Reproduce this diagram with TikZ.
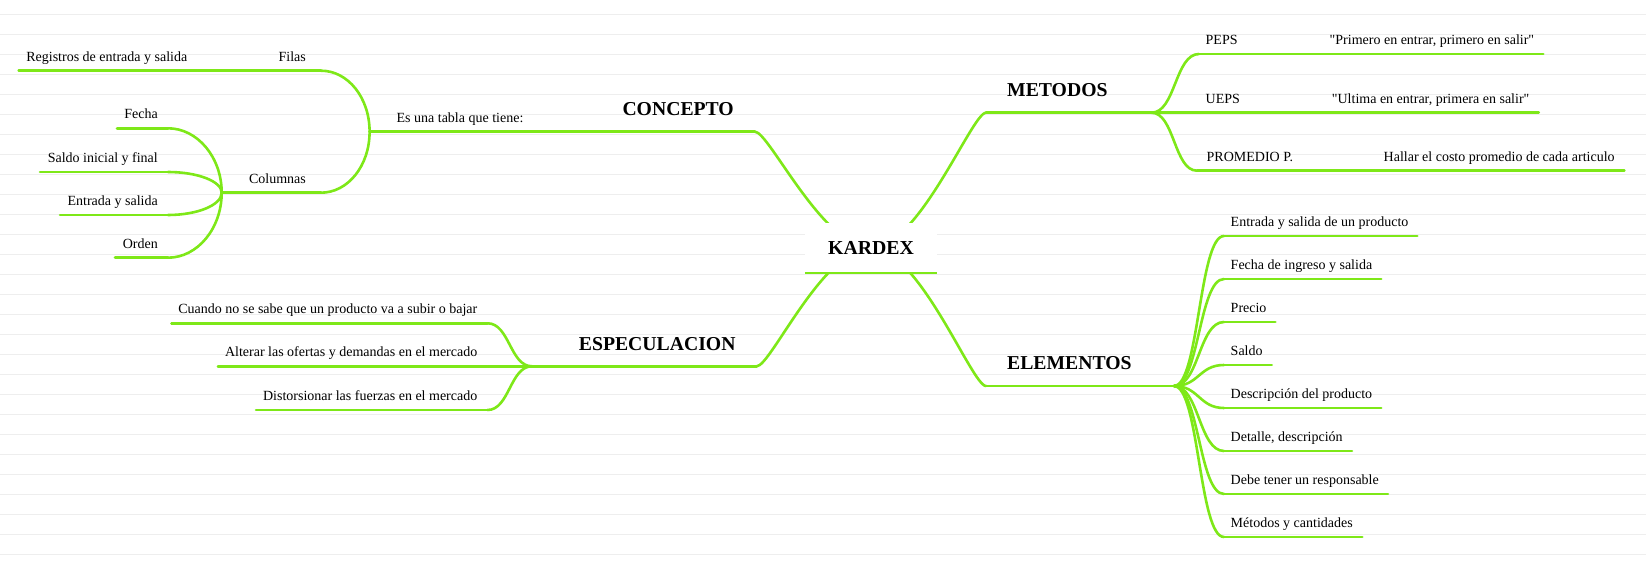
\documentclass[tikz,border=0pt]{standalone}
\usepackage{fontspec}
\setmainfont{Liberation Serif}
\usepackage{tikz}
\usetikzlibrary{positioning}
\definecolor{ramaverde}{RGB}{126,232,24}
\definecolor{rayado}{RGB}{238,238,238}
\font\comfuente="Liberation Serif" at 14pt
\newcommand{\comilla}{{\comfuente\symbol{34}}}

\begin{document}
\begin{tikzpicture}[
    x=1pt, y=-1pt,
    rama/.style={draw=ramaverde, line width=2.6pt, line cap=round},
    raya/.style={draw=rayado, line width=1pt},
    hoja/.style={font=\fontsize{14}{16}\selectfont, inner sep=0pt, text depth=3pt},
    tema/.style={font=\fontsize{19.7}{22}\selectfont\bfseries, inner sep=0pt, text depth=0pt},
    raiz/.style={font=\fontsize{19.8}{22}\selectfont\bfseries, fill=white, inner sep=0pt,
                 minimum width=132pt, minimum height=49.5pt}
]
    \useasboundingbox (0,0) rectangle (1646,567);

    % Fondo rayado
    \foreach \k in {0,...,27}
        \draw[raya] (0,{14.3+20*\k}) -- (1646,{14.3+20*\k});

    % Puntos
    \coordinate (rootc) at (871,248);

    \coordinate (conL) at (560,131.7);   \coordinate (conR) at (755,131.7);
    \coordinate (tablaL) at (369.6,131.7); \coordinate (tablaR) at (533.6,131.7);
    \coordinate (filasL) at (270,70.7);  \coordinate (filasR) at (321,70.7);
    \coordinate (regL) at (18.6,70.7);   \coordinate (regR) at (197.5,70.7);
    \coordinate (colL) at (221.7,192.7); \coordinate (colR) at (321,192.7);
    \coordinate (fechaL) at (117,128.3); \coordinate (fechaR) at (168,128.3);
    \coordinate (saldoL) at (40,172);    \coordinate (saldoR) at (168,172);
    \coordinate (entL) at (60,215);      \coordinate (entR) at (168,215);
    \coordinate (ordenL) at (115,257.7); \coordinate (ordenR) at (168,257.7);

    \coordinate (espL) at (532,366.3);   \coordinate (espR) at (756.7,366.3);
    \coordinate (cuaL) at (171.4,323.3); \coordinate (cuaR) at (487.5,323.3);
    \coordinate (altL) at (217.9,366.3); \coordinate (altR) at (487.5,366.3);
    \coordinate (disL) at (256,410);     \coordinate (disR) at (487.5,410);

    \coordinate (metL) at (986,112.7);   \coordinate (metR) at (1151.5,112.7);
    \coordinate (pepsL) at (1199,54);    \coordinate (pepsR) at (1260,54);
    \coordinate (priL) at (1321.5,54);   \coordinate (priR) at (1543.3,54);
    \coordinate (uepsL) at (1199,112.7); \coordinate (uepsR) at (1260,112.7);
    \coordinate (ultL) at (1323.7,112.7); \coordinate (ultR) at (1538.8,112.7);
    \coordinate (promL) at (1197,170.7); \coordinate (promR) at (1310,170.7);
    \coordinate (halL) at (1375.5,170.7); \coordinate (halR) at (1624.4,170.7);

    \coordinate (eleL) at (986,386);     \coordinate (eleR) at (1174,386);
    \coordinate (e1L) at (1224,236);     \coordinate (e1R) at (1417.3,236);
    \coordinate (e2L) at (1224,279);     \coordinate (e2R) at (1381.2,279);
    \coordinate (e3L) at (1224,322);     \coordinate (e3R) at (1275.4,322);
    \coordinate (e4L) at (1224,365);     \coordinate (e4R) at (1271.8,365);
    \coordinate (e5L) at (1224,408);     \coordinate (e5R) at (1381.2,408);
    \coordinate (e6L) at (1224,451);     \coordinate (e6R) at (1352,451);
    \coordinate (e7L) at (1224,494);     \coordinate (e7R) at (1388,494);
    \coordinate (e8L) at (1224,537);     \coordinate (e8R) at (1362.3,537);

    % Ramas principales
    \draw[rama] (rootc) .. controls +(-48,0) and +(14,0) .. (conR);
    \draw[rama] (rootc) .. controls +(-48,0) and +(14,0) .. (espR);
    \draw[rama] (rootc) .. controls +(48,0) and +(-14,0) .. (metL);
    \draw[rama] (rootc) .. controls +(48,0) and +(-14,0) .. (eleL);

    % Concepto
    \draw[rama] (conL) -- (conR);
    \draw[rama] (tablaR) -- (conL);
    \draw[rama] (tablaL) -- (tablaR);
    \draw[rama] (filasR) .. controls +(27,0) and +(0,-34) .. (tablaL);
    \draw[rama] (colR) .. controls +(27,0) and +(0,34) .. (tablaL);
    \draw[rama] (filasL) -- (filasR);
    \draw[rama] (regR) -- (filasL);
    \draw[rama] (regL) -- (regR);
    \draw[rama] (colL) -- (colR);
    \draw[rama] (fechaR) .. controls +(29.5,0) and +(0,-35.4) .. (colL);
    \draw[rama] (saldoR) .. controls +(29.5,0) and +(0,-11.4) .. (colL);
    \draw[rama] (entR) .. controls +(29.5,0) and +(0,12.3) .. (colL);
    \draw[rama] (ordenR) .. controls +(29.5,0) and +(0,35.7) .. (colL);
    \draw[rama] (fechaL) -- (fechaR);
    \draw[rama] (saldoL) -- (saldoR);
    \draw[rama] (entL) -- (entR);
    \draw[rama] (ordenL) -- (ordenR);

    % Especulacion
    \draw[rama] (espL) -- (espR);
    \draw[rama] (cuaR) .. controls +(22,0) and +(-22,0) .. (espL);
    \draw[rama] (altR) -- (espL);
    \draw[rama] (disR) .. controls +(22,0) and +(-22,0) .. (espL);
    \draw[rama] (cuaL) -- (cuaR);
    \draw[rama] (altL) -- (altR);
    \draw[rama] (disL) -- (disR);

    % Metodos
    \draw[rama] (metL) -- (metR);
    \draw[rama] (metR) .. controls +(24,0) and +(-24,0) .. (pepsL);
    \draw[rama] (metR) -- (uepsL);
    \draw[rama] (metR) .. controls +(23,0) and +(-23,0) .. (promL);
    \draw[rama] (pepsL) -- (pepsR);
    \draw[rama] (pepsR) -- (priL);
    \draw[rama] (priL) -- (priR);
    \draw[rama] (uepsL) -- (uepsR);
    \draw[rama] (uepsR) -- (ultL);
    \draw[rama] (ultL) -- (ultR);
    \draw[rama] (promL) -- (promR);
    \draw[rama] (promR) -- (halL);
    \draw[rama] (halL) -- (halR);

    % Elementos
    \draw[rama] (eleL) -- (eleR);
    \foreach \i in {1,...,8} {
        \draw[rama] (eleR) .. controls +(25,0) and +(-25,0) .. (e\i L);
        \draw[rama] (e\i L) -- (e\i R);
    }

    % Raiz
    \node[raiz] (kardex) at (rootc) {KARDEX};
    \draw[rama, line cap=butt] (kardex.south west) -- (kardex.south east);

    % Textos
    \node[tema, above left=16pt and 21pt of conR] (concepto) {CONCEPTO};
    \node[hoja, above left=6.3pt and 10pt of tablaR] (tabla) {Es una tabla que tiene:};
    \node[hoja, above left=6.3pt and 15pt of filasR] (filas) {Filas};
    \node[hoja, above left=6.3pt and 10pt of regR] (reg) {Registros de entrada y salida};
    \node[hoja, above left=6.3pt and 15pt of colR] (col) {Columnas};
    \node[hoja, above left=6.3pt and 10pt of fechaR] (fecha) {Fecha};
    \node[hoja, above left=6.3pt and 10pt of saldoR] (saldo) {Saldo inicial y final};
    \node[hoja, above left=6.3pt and 10pt of entR] (ent) {Entrada y salida};
    \node[hoja, above left=6.3pt and 10pt of ordenR] (orden) {Orden};

    \node[tema, above left=16pt and 21pt of espR] (espec) {ESPECULACION};
    \node[hoja, above left=6.3pt and 10pt of cuaR] (cua) {Cuando no se sabe que un producto va a subir o bajar};
    \node[hoja, above left=6.3pt and 10pt of altR] (alt) {Alterar las ofertas y demandas en el mercado};
    \node[hoja, above left=6.3pt and 10pt of disR] (dis) {Distorsionar las fuerzas en el mercado};

    \node[tema, above right=16pt and 21pt of metL] (metodos) {METODOS};
    \node[hoja, above right=6.3pt and 6.5pt of pepsL] (peps) {PEPS};
    \node[hoja, above right=6.3pt and 8pt of priL] (pri) {\comilla Primero en entrar, primero en salir\comilla};
    \node[hoja, above right=6.3pt and 6.5pt of uepsL] (ueps) {UEPS};
    \node[hoja, above right=6.3pt and 8pt of ultL] (ult) {\comilla Ultima en entrar, primera en salir\comilla};
    \node[hoja, above right=6.3pt and 9.5pt of promL] (prom) {PROMEDIO P.};
    \node[hoja, above right=6.3pt and 8pt of halL] (hal) {Hallar el costo promedio de cada articulo};

    \node[tema, above right=16pt and 21pt of eleL] (elementos) {ELEMENTOS};
    \node[hoja, above right=6.3pt and 6.5pt of e1L] (e1) {Entrada y salida de un producto};
    \node[hoja, above right=6.3pt and 6.5pt of e2L] (e2) {Fecha de ingreso y salida};
    \node[hoja, above right=6.3pt and 6.5pt of e3L] (e3) {Precio};
    \node[hoja, above right=6.3pt and 6.5pt of e4L] (e4) {Saldo};
    \node[hoja, above right=6.3pt and 6.5pt of e5L] (e5) {Descripción del producto};
    \node[hoja, above right=6.3pt and 6.5pt of e6L] (e6) {Detalle, descripción};
    \node[hoja, above right=6.3pt and 6.5pt of e7L] (e7) {Debe tener un responsable};
    \node[hoja, above right=6.3pt and 6.5pt of e8L] (e8) {Métodos y cantidades};
\end{tikzpicture}
\end{document}
